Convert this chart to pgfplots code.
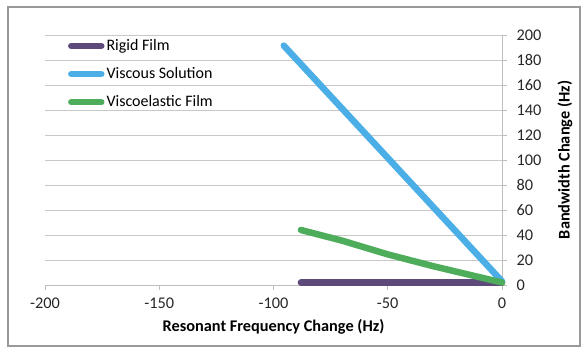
\documentclass[border=0pt]{standalone}
\usepackage{pgfplots}
\pgfplotsset{compat=1.18}
\usepackage{fontspec}
\setmainfont{Carlito}
\definecolor{rigid}{HTML}{5D4A7B}
\definecolor{visc}{HTML}{4BAEE6}
\definecolor{vel}{HTML}{4EAD5B}
\definecolor{gridc}{HTML}{C8C8C8}
\definecolor{axc}{HTML}{BEBEBE}
\begin{document}
\begin{tikzpicture}
\begin{axis}[
  scale only axis,
  width=457bp, height=250bp,
  xmin=-200, xmax=0, ymin=0, ymax=200,
  axis x line=bottom, axis y line=right,
  axis line style={-, draw=axc, line width=0.8bp},
  xtick={-200,-150,-100,-50,0},
  ytick={0,20,...,200},
  ymajorgrids,
  grid style={draw=gridc, line width=0.8bp},
  tick align=outside,
  major tick length=5bp,
  tick style={draw=axc, line width=0.8bp},
  font=\fontsize{16.3bp}{19bp}\selectfont,
  /pgf/number format/assume math mode=true,
  ticklabel style={font=\fontsize{16.3bp}{19bp}\selectfont, text=black!85},
  xticklabel style={yshift=-4bp},
  yticklabel style={xshift=6bp},
  xlabel={\textbf{Resonant Frequency Change (Hz)}},
  ylabel={\textbf{Bandwidth Change (Hz)}},
  every axis x label/.style={at={(rel axis cs:0.5,0)}, anchor=center, yshift=-42bp},
  every axis y label/.style={at={(rel axis cs:1,0.5)}, anchor=center, xshift=63bp, rotate=90},
  clip=false,
  legend cell align=left,
  legend style={draw=none, fill=none, at={(rel axis cs:0.05,0.998)}, anchor=north west,
    font=\fontsize{16bp}{19bp}\selectfont, row sep=11.5bp, inner xsep=0pt},
  legend image code/.code={\draw[#1, line cap=round] (0bp,0bp) -- (30bp,0bp);},
  every axis plot/.append style={line width=6.5bp, line cap=round, no markers},
]
\addplot[rigid] coordinates {(-88,2) (0,2)};
\addlegendentry{Rigid Film}
\addplot[visc] coordinates {(-95.5,191.5) (0,3)};
\addlegendentry{Viscous Solution}
\addplot[vel] coordinates {(-88,44) (-70,35.5) (-50,24.5) (-30,15) (0,2)};
\addlegendentry{Viscoelastic Film}
\coordinate (O) at (rel axis cs:0,0);
\coordinate (T) at (rel axis cs:1,1);
\end{axis}
\draw[draw=gray!80, line width=1.2bp] ([xshift=-37bp,yshift=-61bp]O) rectangle ([xshift=78bp,yshift=28bp]T);
\path ([xshift=-45bp,yshift=-69bp]O) rectangle ([xshift=86bp,yshift=35bp]T);
\end{tikzpicture}
\end{document}
